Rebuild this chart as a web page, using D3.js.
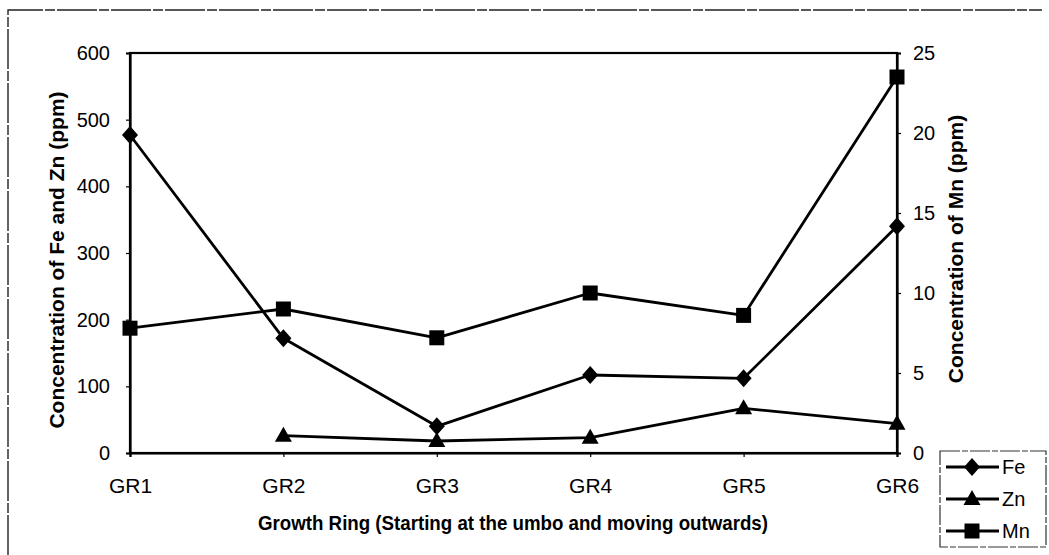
<!DOCTYPE html>
<html><head><meta charset="utf-8">
<script src="https://cdn.jsdelivr.net/npm/d3@7"></script>
<style>body{margin:0;background:#fff;} svg{display:block;font-family:"Liberation Sans",Arial,sans-serif;}</style>
</head><body>
<script>
const categories = ["GR1","GR2","GR3","GR4","GR5","GR6"];
const feValues = [477, 172, 40, 117, 112, 340];
const znValues = [null, 26, 18, 23, 67, 44];
const mnValues = [7.8, 9.0, 7.2, 10.0, 8.6, 23.5];
const leftTicks = [0,100,200,300,400,500,600];
const rightTicks = [0,5,10,15,20,25];

const W = 1049, H = 555;
const L = 130, R = 897, T = 53, B = 453;
const svg = d3.select("body").append("svg").attr("width", W).attr("height", H);

// outer border (top and left edges visible in the original)
svg.append("path").attr("d","M8,555V10H1042")
  .attr("fill","none").attr("stroke","#222").attr("stroke-width",1.4).attr("stroke-dasharray","40,2,10,2");

const x = d3.scalePoint().domain(categories).range([L, R]);
const yL = d3.scaleLinear().domain([0,600]).range([B, T]);
const yR = d3.scaleLinear().domain([0,25]).range([B, T]);

// frame
svg.append("rect").attr("x",L).attr("y",T).attr("width",R-L).attr("height",B-T)
  .attr("fill","none").attr("stroke","#000").attr("stroke-width",2.2);

const axL = svg.append("g").attr("transform",`translate(${L},0)`)
  .call(d3.axisLeft(yL).tickValues(leftTicks).tickSize(4).tickPadding(16));
const axR = svg.append("g").attr("transform",`translate(${R},0)`)
  .call(d3.axisRight(yR).tickValues(rightTicks).tickSize(4).tickPadding(12));
const axB = svg.append("g").attr("transform",`translate(0,${B})`)
  .call(d3.axisBottom(x).tickSize(4).tickPadding(21));
[axL,axR,axB].forEach(g=>{
  g.select(".domain").attr("stroke","#000").attr("stroke-width",2.2);
  g.selectAll(".tick line").attr("stroke","#000").attr("stroke-width",1.2);
  g.selectAll(".tick text").attr("font-size",20).attr("fill","#000").attr("font-family","Liberation Sans, Arial, sans-serif");
});
axB.selectAll(".tick text").attr("font-size",21);

// titles
svg.append("text").attr("transform",`translate(64,260) rotate(-90)`).attr("text-anchor","middle")
  .attr("font-size",21).attr("font-weight","bold").text("Concentration of Fe and Zn (ppm)");
svg.append("text").attr("transform",`translate(963,249) rotate(-90)`).attr("text-anchor","middle")
  .attr("font-size",21).attr("font-weight","bold").text("Concentration of Mn (ppm)");
svg.append("text").attr("x",513).attr("y",530).attr("text-anchor","middle")
  .attr("font-size",21).attr("font-weight","bold")
  .attr("textLength",510).attr("lengthAdjust","spacingAndGlyphs")
  .text("Growth Ring (Starting at the umbo and moving outwards)");

// custom marker shapes
const diamond = "M0,-9L8,0L0,9L-8,0Z";
const triangle = "M0,-9L8.5,6L-8.5,6Z";
const square = "M-7.5,-7.5H7.5V7.5H-7.5Z";

const series = [
  {name:"Fe", vals:feValues, y:yL, shape:diamond},
  {name:"Zn", vals:znValues, y:yL, shape:triangle},
  {name:"Mn", vals:mnValues, y:yR, shape:square},
];
series.forEach(s=>{
  const pts = categories.map((c,i)=>({c, v:s.vals[i]})).filter(d=>d.v!=null);
  svg.append("path").datum(pts).attr("fill","none").attr("stroke","#000").attr("stroke-width",2.8)
    .attr("stroke-linejoin","round")
    .attr("d", d3.line().x(d=>x(d.c)).y(d=>s.y(d.v)));
  svg.selectAll(null).data(pts).enter().append("path")
    .attr("transform", d=>`translate(${x(d.c)},${s.y(d.v)})`)
    .attr("d", s.shape).attr("fill","#000");
});

// legend
const lg = svg.append("g");
lg.append("rect").attr("x",940).attr("y",451).attr("width",106).attr("height",96)
  .attr("fill","#fff").attr("stroke","#333").attr("stroke-width",1.2).attr("stroke-dasharray","20,2,6,2");
series.forEach((s,i)=>{
  const yy = 467 + i*32;
  lg.append("line").attr("x1",946).attr("x2",999).attr("y1",yy).attr("y2",yy).attr("stroke","#000").attr("stroke-width",2.8);
  lg.append("path").attr("transform",`translate(972,${yy})`).attr("d", s.shape).attr("fill","#000");
  lg.append("text").attr("x",1002).attr("y",yy+7).attr("font-size",20).text(s.name);
});
</script>
</body></html>
